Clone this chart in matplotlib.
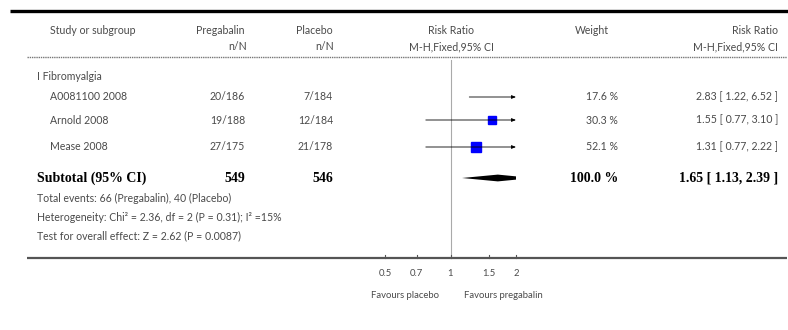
"""
Forest plot: pregabalin vs placebo, fibromyalgia subgroup (risk ratio, M-H fixed).
"""

import matplotlib
matplotlib.use("Agg")
import matplotlib.pyplot as plt
from matplotlib.patches import Polygon


# ---- data ----
studies = ["A0081100 2008", "Arnold 2008", "Mease 2008"]
pregabalin_nN = ["20/186", "19/188", "27/175"]
placebo_nN = ["7/184", "12/184", "21/178"]
risk_ratio = [2.83, 1.55, 1.31]
ci_low = [1.22, 0.77, 0.77]
ci_high = [6.52, 3.10, 2.22]
weight = [17.6, 30.3, 52.1]

subtotal_preg = 549
subtotal_plac = 546
subtotal_rr = 1.65
subtotal_low = 1.13
subtotal_high = 2.39
subtotal_weight = 100.0

x_ticks = [0.5, 0.7, 1, 1.5, 2]
x_tick_labels = ["0.5", "0.7", "1", "1.5", "2"]

footnotes = [
    "Total events: 66 (Pregabalin), 40 (Placebo)",
    "Heterogeneity: Chi\u00b2 = 2.36, df = 2 (P = 0.31); I\u00b2 =15%",
    "Test for overall effect: Z = 2.62 (P = 0.0087)",
]

# ---- layout (pixels, figure is 788 x 330) ----
W, H = 788, 330
study_rows = [97, 120, 147]
subtotal_row = 178
foot_rows = [198, 217, 236]
GREY = "#4a4a4a"
FONT = ["Lato", "DejaVu Sans"]
SERIF = ["Liberation Serif", "DejaVu Serif"]
FS = 7.6

fig = plt.figure(figsize=(W / 100, H / 100), dpi=100)

# text layer in pixel coordinates
tx = fig.add_axes([0, 0, 1, 1])
tx.set_xlim(0, W)
tx.set_ylim(H, 0)
tx.axis("off")


def put(x, y, s, ha="left", **kw):
    opts = dict(fontsize=FS, color=GREY, family=FONT, va="center", ha=ha)
    opts.update(kw)
    tx.text(x, y, s, **opts)


# rules
tx.plot([10, W], [11, 11], color="black", lw=2.4, solid_capstyle="butt")
tx.plot([27, 787], [57, 57], color="#777777", lw=1.0, ls=(0, (1, 0.6)))
tx.plot([27, 787], [258, 258], color="#555555", lw=1.6, solid_capstyle="butt")

# headers
put(50, 31, "Study or subgroup")
put(245, 31, "Pregabalin", ha="right")
put(247, 47, "n/N", ha="right")
put(333, 31, "Placebo", ha="right")
put(334, 47, "n/N", ha="right")
put(451, 31, "Risk Ratio", ha="center")
put(451, 47, "M-H,Fixed,95% CI", ha="center")
put(592, 31, "Weight", ha="center")
put(778, 31, "Risk Ratio", ha="right")
put(778, 47, "M-H,Fixed,95% CI", ha="right")

put(37, 77, "I Fibromyalgia")
for i, y in enumerate(study_rows):
    put(50, y, studies[i])
    put(245, y, pregabalin_nN[i], ha="right")
    put(333, y, placebo_nN[i], ha="right")
    put(618, y, f"{weight[i]:.1f} %", ha="right")
    put(778, y, f"{risk_ratio[i]:.2f} [ {ci_low[i]:.2f}, {ci_high[i]:.2f} ]", ha="right")

bold = dict(family=SERIF, fontweight="bold", color="black", fontsize=10)
put(37, subtotal_row, "Subtotal (95% CI)", **bold)
put(245, subtotal_row, str(subtotal_preg), ha="right", **bold)
put(333, subtotal_row, str(subtotal_plac), ha="right", **bold)
put(618, subtotal_row, f"{subtotal_weight:.1f} %", ha="right", **bold)
put(778, subtotal_row,
    f"{subtotal_rr:.2f} [ {subtotal_low:.2f}, {subtotal_high:.2f} ]", ha="right", **bold)

for y, s in zip(foot_rows, footnotes):
    put(37, y, s)

# forest panel: log scale 0.5..2 mapped to x = 385..516 px
ax = fig.add_axes([385 / W, 0, 131 / W, 1])
ax.set_xscale("log")
ax.set_xlim(0.5, 2)
ax.set_ylim(H, 0)
ax.axis("off")
ax.patch.set_alpha(0)

ax.plot([1, 1], [60, 258], color="#aaaaaa", lw=0.8, clip_on=False)

for i, y in enumerate(study_rows):
    if ci_high[i] > 2:
        ax.annotate("", xy=(2, y), xytext=(ci_low[i], y),
                    arrowprops=dict(arrowstyle="-|>,head_length=0.25,head_width=0.1",
                                    color="black", lw=0.6, shrinkA=0, shrinkB=0))
    else:
        ax.plot([ci_low[i], ci_high[i]], [y, y], color="black", lw=0.6)
    size_px = 1.385 * weight[i] ** 0.5
    ax.plot([risk_ratio[i]], [y], marker="s", ms=size_px * 0.72,
            color="#0000ff", mec="#0000ff", lw=0, clip_on=True)

dh = 3.4
diamond = Polygon(
    [(subtotal_low, subtotal_row), (subtotal_rr, subtotal_row - dh),
     (subtotal_high, subtotal_row), (subtotal_rr, subtotal_row + dh)],
    closed=True, color="black", lw=0)
ax.add_patch(diamond)

for t, lab in zip(x_ticks, x_tick_labels):
    ax.plot([t, t], [255, 258], color="#555555", lw=0.8, clip_on=False)
    ax.text(t, 273, lab, ha="center", va="center", fontsize=FS - 0.8,
            color=GREY, family=FONT)

ax.text(0.62, 295, "Favours placebo", ha="center", va="center",
        fontsize=FS - 0.8, color=GREY, family=FONT)
ax.text(1.75, 295, "Favours pregabalin", ha="center", va="center",
        fontsize=FS - 0.8, color=GREY, family=FONT, clip_on=False)

fig.savefig("out.png", dpi=100)
